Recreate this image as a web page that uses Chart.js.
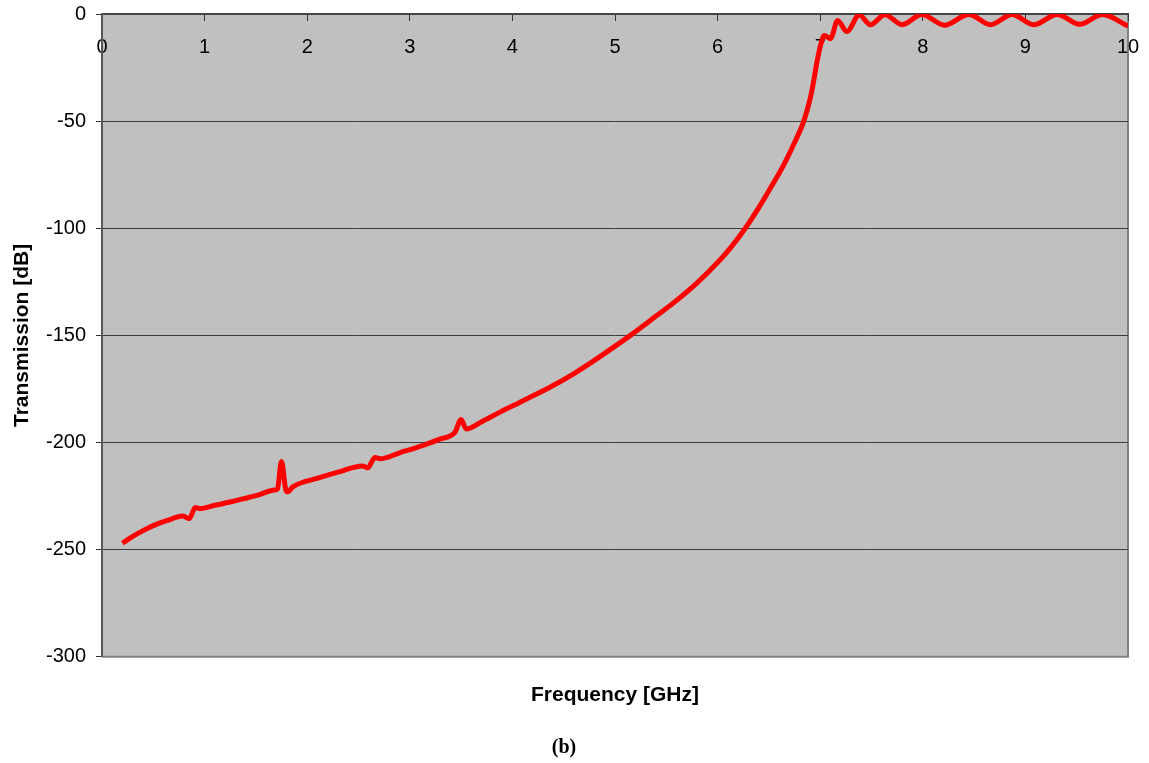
<!DOCTYPE html>
<html>
<head>
<meta charset="utf-8">
<script src="https://cdn.jsdelivr.net/npm/chart.js@4.4.0/dist/chart.umd.min.js"></script>
<style>
html,body{margin:0;padding:0;background:#ffffff;}
#wrap{width:1149px;height:763px;position:relative;}
</style>
</head>
<body>
<div id="wrap"><canvas id="c"></canvas></div>
<script>
// ---- data ----
const freqGHz = [
  0.2, 0.3, 0.4, 0.5, 0.63, 0.79, 0.85, 0.91, 0.95, 1.1,
  1.28, 1.5, 1.68, 1.71, 1.75, 1.79, 1.81, 1.86, 2.12, 2.3,
  2.54, 2.59, 2.66, 2.71, 2.9, 3.13, 3.3, 3.44, 3.5, 3.55,
  3.7, 3.88, 4.1, 4.37, 4.6, 4.85, 5.15, 5.4, 5.61, 5.8,
  6.0, 6.12, 6.27, 6.4, 6.5, 6.58, 6.66, 6.75, 6.84, 6.9,
  6.93, 6.97, 7.01, 7.04, 7.1, 7.17, 7.26, 7.38, 7.49, 7.63,
  7.8, 7.99, 8.21, 8.45, 8.66, 8.87, 9.08, 9.31, 9.53, 9.75, 10.0
];
const transmissionDb = [
  -247, -243.8, -241.1, -238.8, -236.5, -234.3, -235.5, -230.3, -230.8, -229.3,
  -227.4, -224.8, -222.2, -221.6, -208.8, -221.8, -223, -220.7, -216.4, -213.8,
  -210.9, -211.8, -207, -207.6, -204.8, -201.3, -198.3, -195.2, -189.2, -193.7,
  -190.3, -185.8, -180.6, -174.1, -167.8, -160, -150, -141, -133.3, -125.5,
  -116, -109.5, -100, -90.5, -82.5, -76, -69, -60, -50, -40,
  -33, -22, -13.5, -10, -11.5, -3, -8.2, -0.5, -5, -0.3,
  -5, -0.2, -5.2, -0.2, -5, -0.2, -5, -0.2, -4.8, -0.2, -5.6
];
const xTickValues = [0, 1, 2, 3, 4, 5, 6, 7, 8, 9, 10];
const yTickValues = [0, -50, -100, -150, -200, -250, -300];
const xTitle = 'Frequency [GHz]';
const yTitle = 'Transmission [dB]';
const captionText = '(b)';

const points = freqGHz.map((f, i) => ({ x: f, y: transmissionDb[i] }));

const plotBg = {
  id: 'plotBg',
  beforeDraw(chart) {
    const { ctx, chartArea: { left, top, right, bottom } } = chart;
    ctx.save();
    ctx.fillStyle = '#C0C0C0';
    ctx.fillRect(left, top, right - left, bottom - top);
    ctx.strokeStyle = '#808080';
    ctx.lineWidth = 2;
    ctx.beginPath();
    ctx.moveTo(left, bottom);
    ctx.lineTo(right, bottom);
    ctx.lineTo(right, top);
    ctx.stroke();
    ctx.restore();
  }
};

const sans = 'Liberation Sans, Arial, sans-serif';

new Chart(document.getElementById('c'), {
  type: 'line',
  data: {
    datasets: [{
      data: points,
      borderColor: '#FF0000',
      borderWidth: 5,
      pointRadius: 0,
      cubicInterpolationMode: 'monotone',
      fill: false,
      clip: 0
    }]
  },
  options: {
    responsive: true,
    maintainAspectRatio: false,
    animation: false,
    layout: { padding: { top: 14, right: 21, bottom: 3, left: 0 } },
    plugins: {
      legend: { display: false },
      tooltip: { enabled: false },
      title: {
        display: true,
        position: 'bottom',
        text: captionText,
        color: '#000',
        font: { family: 'Liberation Serif, Times New Roman, serif', size: 20, weight: 'bold' },
        padding: { top: 0, bottom: 0 }
      }
    },
    scales: {
      x: {
        type: 'linear',
        min: 0, max: 10,
        position: { y: 0 },
        afterBuildTicks(scale) { scale.ticks = xTickValues.map(v => ({ value: v })); },
        afterFit(scale) { scale.paddingRight = 21; scale.paddingLeft = 0; },
        ticks: {
          color: '#000',
          font: { family: sans, size: 20 },
          padding: 15,
          autoSkip: false,
          maxRotation: 0
        },
        grid: { display: true, drawOnChartArea: false, drawTicks: true, tickLength: 6, tickColor: '#333', lineWidth: 1 },
        border: { display: true, color: '#444', width: 2 }
      },
      x2: {
        type: 'linear',
        min: 0, max: 10,
        position: 'bottom',
        ticks: { display: false },
        grid: { display: false },
        border: { display: false },
        title: {
          display: true,
          text: xTitle,
          color: '#000',
          font: { family: sans, size: 21, weight: 'bold' },
          padding: { top: 18, bottom: 28 }
        }
      },
      y: {
        type: 'linear',
        min: -300, max: 0,
        position: 'left',
        afterBuildTicks(scale) { scale.ticks = yTickValues.map(v => ({ value: v })); },
        afterFit(scale) { scale.width = 102; scale.paddingTop = 0; scale.paddingBottom = 0; },
        ticks: {
          color: '#000',
          font: { family: sans, size: 20 },
          padding: 10
        },
        grid: {
          color: (c) => (c.tick && c.tick.value === -300) ? '#808080' : '#3c3c3c',
          lineWidth: 1,
          drawTicks: true,
          tickLength: 6,
          tickColor: '#333'
        },
        border: { display: true, color: '#555', width: 2 },
        title: {
          display: true,
          text: yTitle,
          color: '#000',
          font: { family: sans, size: 21, weight: 'bold' },
          padding: { top: 10, bottom: 0 }
        }
      }
    }
  },
  plugins: [plotBg]
});
</script>
</body>
</html>
